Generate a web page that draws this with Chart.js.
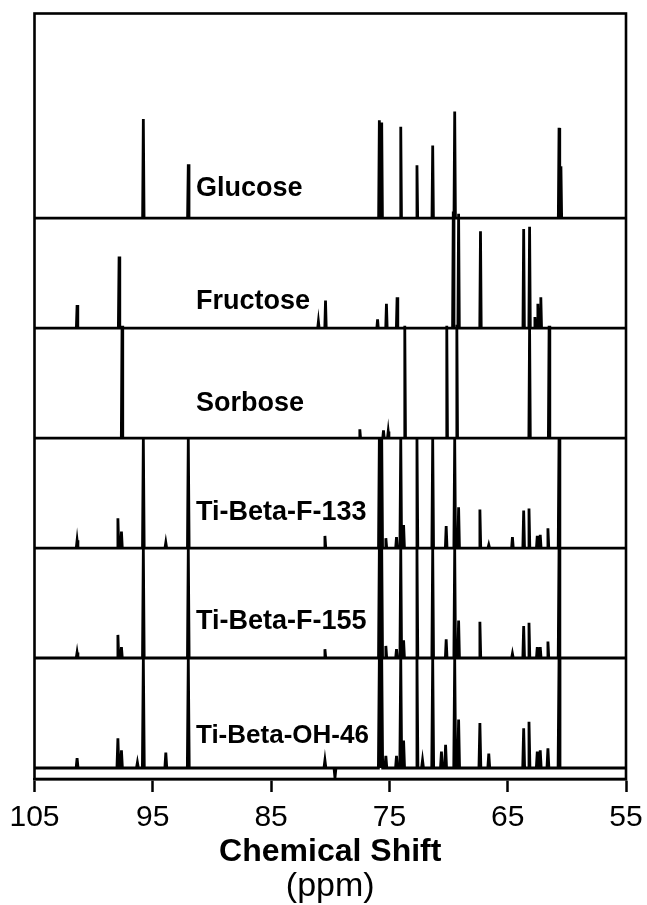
<!DOCTYPE html>
<html>
<head>
<meta charset="utf-8">
<script src="https://cdn.jsdelivr.net/npm/chart.js@4.4.1/dist/chart.umd.min.js"></script>
<style>
  html, body { margin: 0; padding: 0; background: #fff; }
  canvas { display: block; }
</style>
</head>
<body>
<canvas id="nmr" width="647" height="905"></canvas>
<script>
// Chemical-shift axis ticks (ppm, drawn high to low)
const shiftTicks = [105, 95, 85, 75, 65, 55];

// Spectra, listed from the top of the stack to the bottom
const sampleNames = ['Glucose', 'Fructose', 'Sorbose', 'Ti-Beta-F-133', 'Ti-Beta-F-155', 'Ti-Beta-OH-46'];

// Resolved 13C signals: [shift in ppm, relative intensity]
const glucosePeaks = [
  [95.8, 0.90], [92.0, 0.49], [75.85, 0.89], [75.65, 0.87], [74.04, 0.83],
  [72.67, 0.48], [71.34, 0.66], [69.48, 0.97], [60.66, 0.82], [60.5, 0.47]
];
const fructosePeaks = [
  [101.4, 0.21], [97.85, 0.65], [81.0, 0.06], [80.4, 0.25], [76.0, 0.08],
  [75.25, 0.22], [74.35, 0.28], [69.6, 1.06], [69.15, 1.04], [67.3, 0.88],
  [63.65, 0.90], [63.15, 0.92], [62.7, 0.10], [62.45, 0.22], [62.2, 0.28]
];
const sorbosePeaks = [
  [97.6, 1.02], [77.5, 0.08], [75.5, 0.07], [75.1, 0.06], [73.7, 1.02],
  [70.15, 1.02], [69.3, 1.03], [63.15, 1.02], [61.5, 1.02]
];
const tiBetaF133Peaks = [
  [101.4, 0.07], [97.95, 0.27], [97.65, 0.15], [95.8, 1.0], [93.9, 0.05],
  [92.0, 1.0], [80.45, 0.11], [75.85, 1.0], [75.65, 1.0], [75.3, 0.09],
  [74.4, 0.10], [74.04, 1.0], [73.8, 0.21], [72.67, 1.0], [71.34, 1.0],
  [70.2, 0.20], [69.48, 1.0], [69.15, 0.37], [67.35, 0.35], [66.6, 0.03],
  [64.6, 0.10], [63.65, 0.34], [63.2, 0.36], [62.5, 0.11], [62.25, 0.12],
  [61.6, 0.18], [60.66, 1.0]
];
const tiBetaF155Peaks = [
  [101.4, 0.05], [97.95, 0.21], [97.65, 0.10], [95.8, 1.0], [92.0, 1.0],
  [80.45, 0.08], [75.85, 1.0], [75.65, 1.0], [75.3, 0.11], [74.4, 0.08],
  [74.04, 1.0], [73.8, 0.16], [72.67, 1.0], [71.34, 1.0], [70.2, 0.17],
  [69.48, 1.0], [69.15, 0.34], [67.35, 0.33], [64.6, 0.04], [63.65, 0.29],
  [63.2, 0.32], [62.5, 0.10], [62.25, 0.10], [61.6, 0.15], [60.66, 1.0]
];
const tiBetaOH46Peaks = [
  [101.4, 0.09], [97.95, 0.27], [97.65, 0.16], [96.3, 0.05], [95.8, 1.0],
  [93.9, 0.14], [92.0, 1.0], [80.45, 0.07], [79.6, -0.09], [75.85, 1.0],
  [75.65, 1.0], [75.3, 0.11], [74.4, 0.11], [74.04, 1.0], [73.8, 0.25],
  [72.67, 1.0], [72.2, 0.07], [71.34, 1.0], [70.6, 0.15], [70.25, 0.21],
  [69.48, 1.0], [69.15, 0.44], [67.35, 0.41], [66.6, 0.13], [63.65, 0.36],
  [63.2, 0.42], [62.5, 0.15], [62.25, 0.16], [61.6, 0.18], [60.66, 1.0]
];

const spectra = [glucosePeaks, fructosePeaks, sorbosePeaks, tiBetaF133Peaks, tiBetaF155Peaks, tiBetaOH46Peaks];

// Drawing style: half base width of each line (ppm), label placement and size
const lineHalfWidth = [0.06, 0.06, 0.06, 0.07, 0.07, 0.08];
const labelShift = 91.35;                 // ppm where the sample names start
const labelLift = [0.27, 0.24, 0.31, 0.32, 0.33, 0.29];
const labelSize = [27, 27, 27, 27, 27, 26];
const FONT = '"Liberation Sans", Arial, Helvetica, sans-serif';

Chart.defaults.font.family = FONT;
Chart.defaults.color = '#000';

// Each trace sits one unit above the next one down
function tracePoints(peaks, offset, hw) {
  const pts = [{ x: shiftTicks[0], y: offset }];
  peaks.slice().sort((a, b) => b[0] - a[0]).forEach(([p, h]) => {
    pts.push({ x: p + hw, y: offset }, { x: p, y: offset + h }, { x: p - hw, y: offset });
  });
  pts.push({ x: shiftTicks[shiftTicks.length - 1], y: offset });
  return pts;
}

const n = spectra.length;
const datasets = spectra.map((peaks, i) => ({
  label: sampleNames[i],
  data: tracePoints(peaks, n - 1 - i, lineHalfWidth[i]),
  borderColor: '#000',
  borderWidth: 2.8,
  borderJoinStyle: 'miter',
  pointRadius: 0,
  tension: 0,
  fill: false
}));

const frame = {
  id: 'frame',
  afterDatasetsDraw(chart) {
    const { ctx, chartArea: a } = chart;
    ctx.save();
    ctx.lineWidth = 2.6;
    ctx.strokeStyle = '#000';
    ctx.strokeRect(a.left, a.top, a.right - a.left, a.bottom - a.top);
    ctx.restore();
  }
};

const sampleLabels = {
  id: 'sampleLabels',
  afterDatasetsDraw(chart) {
    const { ctx, scales: { x, y } } = chart;
    ctx.save();
    ctx.fillStyle = '#000';
    ctx.textAlign = 'left';
    ctx.textBaseline = 'middle';
    sampleNames.forEach((name, i) => {
      ctx.font = 'bold ' + labelSize[i] + 'px ' + FONT;
      ctx.fillText(name, x.getPixelForValue(labelShift), y.getPixelForValue(n - 1 - i + labelLift[i]));
    });
    ctx.restore();
  }
};

new Chart(document.getElementById('nmr'), {
  type: 'line',
  data: { datasets },
  options: {
    responsive: false,
    animation: false,
    layout: { padding: { left: 34.5, right: 21, top: 13.5, bottom: 0 } },
    plugins: {
      legend: { display: false },
      tooltip: { enabled: false },
      title: {
        display: true,
        position: 'bottom',
        text: '(ppm)',
        color: '#000',
        font: { size: 34, weight: 'normal', family: FONT, lineHeight: 1 },
        padding: { top: 1.5, bottom: 1.5 }
      }
    },
    scales: {
      x: {
        type: 'linear',
        reverse: true,
        min: 55,
        max: 105,
        afterBuildTicks: (scale) => { scale.ticks = shiftTicks.map(v => ({ value: v })); },
        ticks: { color: '#000', font: { size: 30, family: FONT, lineHeight: 1.4667 }, padding: 4, maxRotation: 0, autoSkip: false },
        grid: { drawOnChartArea: false, drawTicks: true, tickLength: 13, tickWidth: 2.5, tickColor: '#000' },
        border: { display: true, color: '#000', width: 2.6 },
        title: {
          display: true,
          text: 'Chemical Shift',
          color: '#000',
          font: { size: 32, weight: 'bold', family: FONT, lineHeight: 1 },
          padding: { top: -8, bottom: 0 }
        }
      },
      y: {
        type: 'linear',
        min: -0.1,
        max: 6.86,
        display: false
      }
    }
  },
  plugins: [frame, sampleLabels]
});
</script>
</body>
</html>
